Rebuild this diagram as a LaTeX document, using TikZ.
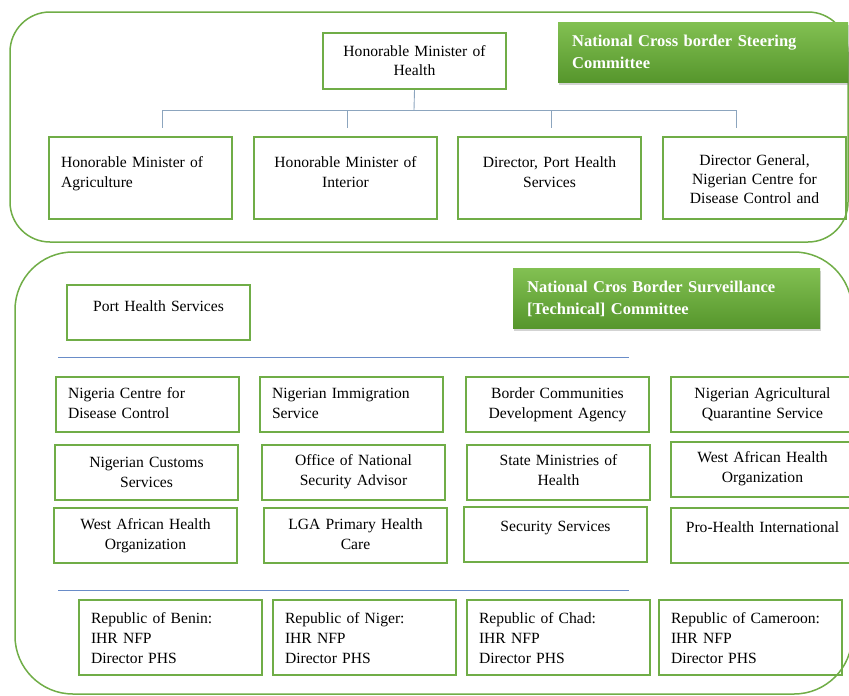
\documentclass[tikz,border=0pt]{standalone}
\usepackage{fontspec}
\setmainfont{Liberation Serif}
\definecolor{boxgreen}{RGB}{112,173,71}
\definecolor{titletop}{RGB}{130,192,82}
\definecolor{titlebot}{RGB}{86,150,44}
\definecolor{busgrey}{RGB}{140,165,190}
\definecolor{ruleblue}{RGB}{105,140,200}
\usetikzlibrary{shadows}
\newcommand{\orgfont}{\fontsize{15.6}{20}\selectfont}
\newcommand{\titlefont}{\fontsize{16.5}{22}\selectfont\bfseries}
\tikzset{
  panel/.style={draw=boxgreen, line width=1.5pt, rounded corners=#1},
  orgbox/.style={draw=boxgreen, line width=2pt, anchor=north west, inner xsep=12pt,
    inner ysep=0pt, text width=159pt, font=\orgfont, align=center},
  topbox/.style={orgbox, text height=23pt, text depth=33pt},
  lvlbox/.style={orgbox, text height=30pt, text depth=52pt},
  membox/.style={orgbox, text height=21pt, text depth=34pt},
  repbox/.style={orgbox, text height=23pt, text depth=52pt, align=left},
  titlebox/.style={anchor=north west, inner xsep=14pt, inner ysep=0pt, text width=#1,
    text height=24pt, text depth=36pt, align=left, text=white, font=\titlefont,
    top color=titletop, bottom color=titlebot,
    drop shadow={shadow xshift=1pt, shadow yshift=-3pt, opacity=0.35}},
  bus/.style={draw=busgrey, line width=0.9pt},
  rule/.style={draw=ruleblue, line width=0.9pt}
}

\begin{document}
\begin{tikzpicture}[x=1pt, y=-1pt]
    \useasboundingbox (0,0) rectangle (849,696);

    % Steering committee
    \draw[panel=40] (10,12) rectangle (848,242);
    \node[titlebox=262pt] (steer) at (558,22) {National Cross border Steering\\Committee};
    \node[topbox] (hmh) at (322,32) {Honorable Minister of\\Health};
    \node[lvlbox, align=left] (agr) at (48,136) {Honorable Minister of\\Agriculture};
    \node[lvlbox] (int) at (253,136) {Honorable Minister of\\Interior};
    \node[lvlbox] (phs) at (457,136) {Director, Port Health\\Services};
    \node[lvlbox, text height=28pt, text depth=54pt, font=\fontsize{15.6}{19}\selectfont] (dg) at (662,136)
        {Director General,\\Nigerian Centre for\\Disease Control and};

    % Tree lines
    \coordinate (bus) at (414,110);
    \draw[bus] (hmh.south) -- (bus);
    \draw[bus] ([xshift=22pt]agr.north |- bus) -- ([xshift=-18pt]dg.north |- bus);
    \foreach \n/\dx in {agr/22,int/2,phs/2,dg/-18}
        \draw[bus] ([xshift=\dx pt]\n.north |- bus) -- ([xshift=\dx pt, yshift=8pt]\n.north);

    % Technical committee
    \draw[panel=58] (15,252) rectangle (852,694);
    \node[titlebox=279pt] (tech) at (513,268) {National Cros Border Surveillance\\{[Technical]} Committee};
    \node[orgbox, text height=26pt, text depth=29pt] (port) at (66,284) {Port Health Services};

    \coordinate (r1a) at (58,357);
    \coordinate (r1b) at (629,357);
    \draw[rule] (r1a) -- (r1b);

    % Member agencies
    \node[membox, align=left] (ncdc) at (55,376) {Nigeria Centre for\\Disease Control};
    \node[membox, align=left] (nis) at (259,376) {Nigerian Immigration\\Service};
    \node[membox] (bcda) at (465,376) {Border Communities\\Development Agency};
    \node[membox] (naqs) at (670,376) {Nigerian Agricultural\\Quarantine Service};

    \node[membox, text height=22pt, text depth=33pt] (ncs) at (54,444) {Nigerian Customs\\Services};
    \node[membox, text height=20pt, text depth=35pt] (onsa) at (261,444) {Office of National\\Security Advisor};
    \node[membox, text height=20pt, text depth=35pt] (smh) at (466,444) {State Ministries of\\Health};
    \node[membox, text height=20pt, text depth=35pt] (wah1) at (670,441) {West African Health\\Organization};

    \node[membox] (wah2) at (53,507) {West African Health\\Organization};
    \node[membox] (lga) at (263,507) {LGA Primary Health\\Care};
    \node[membox, text height=24pt, text depth=31pt] (sec) at (463,506) {Security Services};
    \node[membox, text height=24pt, text depth=31pt] (phi) at (670,507) {Pro-Health International};

    \coordinate (r2a) at (58,590);
    \coordinate (r2b) at (629,590);
    \draw[rule] (r2a) -- (r2b);

    % Neighbouring countries
    \node[repbox] (benin) at (78,599) {Republic of Benin:\\IHR NFP\\Director PHS};
    \node[repbox] (niger) at (272,599) {Republic of Niger:\\IHR NFP\\Director PHS};
    \node[repbox] (chad) at (466,599) {Republic of Chad:\\IHR NFP\\Director PHS};
    \node[repbox] (cam) at (658,599) {Republic of Cameroon:\\IHR NFP\\Director PHS};
\end{tikzpicture}
\end{document}
